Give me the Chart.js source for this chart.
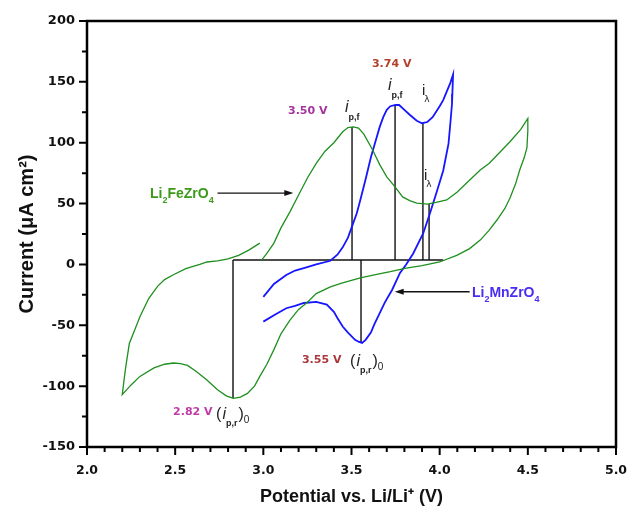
<!DOCTYPE html>
<html>
<head>
<meta charset="utf-8">
<script src="https://cdn.jsdelivr.net/npm/chart.js@4.4.1/dist/chart.umd.min.js"></script>
<style>
  body { margin: 0; background: #fff; }
</style>
</head>
<body>
<canvas id="cvChart" width="628" height="506"></canvas>
<script>
// Li2FeZrO4 loop (green): potential (V) and current (uA cm-2)
const feV = [2.98, 2.92, 2.86, 2.80, 2.74, 2.68, 2.64, 2.56, 2.49, 2.44, 2.40, 2.35, 2.30, 2.27, 2.24, 2.22, 2.21, 2.20,
    2.25, 2.30, 2.38, 2.44, 2.49, 2.53, 2.57, 2.62, 2.68, 2.74, 2.79, 2.83, 2.87, 2.91, 2.95, 2.98, 3.02, 3.06, 3.10, 3.15,
    3.20, 3.25, 3.30, 3.38, 3.44, 3.50, 3.55, 3.65, 3.72, 3.81, 3.90, 4.00, 4.10, 4.17, 4.23, 4.28, 4.325, 4.37, 4.40,
    4.43, 4.455, 4.48, 4.495, 4.50, 4.50,
    4.46, 4.40, 4.34, 4.28, 4.23, 4.16, 4.10, 4.04, 3.98, 3.93, 3.87, 3.83, 3.79, 3.74, 3.70, 3.66, 3.62, 3.57, 3.54,
    3.51, 3.48, 3.45, 3.40, 3.35, 3.30, 3.25, 3.20, 3.15, 3.10, 3.06, 3.02, 2.99];
const feI = [17.5, 12, 7.5, 4.5, 3, 2, 0, -3.5, -8.5, -12.5, -18, -28, -43, -54, -65, -84, -95, -107,
    -99, -92, -85, -82, -81, -81.5, -83, -88, -95, -103, -108, -110, -109, -106, -100, -92, -82, -70, -57, -46,
    -37, -31, -24, -18.4, -15.5, -13, -11, -8, -6, -3, -1, 2, 7.7, 13, 20, 28, 36.5, 46, 55,
    66, 78, 88, 96, 110, 120,
    111, 101, 92, 83, 77.6, 68, 59.5, 53, 51, 49.6, 50.4, 52.5, 55.5, 65, 72, 82, 94, 107, 112,
    113, 112.5, 109, 100, 93, 83, 71, 57, 43, 30, 17.5, 9, 3.6];

// Li2MnZrO4 loop (blue)
const mnV = [3.00, 3.06, 3.13, 3.18, 3.23, 3.30, 3.38, 3.42, 3.45, 3.48, 3.50, 3.53, 3.55, 3.58, 3.61, 3.64, 3.66, 3.68,
    3.70, 3.72, 3.75, 3.77, 3.80, 3.83, 3.87, 3.90, 3.93, 3.96, 4.00, 4.02, 4.04, 4.06, 4.076,
    4.072, 4.07, 4.06, 4.05, 4.02, 3.98, 3.945, 3.907, 3.85, 3.81, 3.775, 3.73, 3.69, 3.66, 3.63, 3.61, 3.58, 3.56,
    3.54, 3.52, 3.48, 3.45, 3.42, 3.40, 3.36, 3.30, 3.23, 3.18, 3.13, 3.07, 3.00];
const mnI = [-26.6, -16, -8.7, -5, -3, 0, 3, 8, 14, 22, 30, 42, 53, 70, 88, 103, 113, 121,
    127, 130, 131, 131, 127, 123, 118, 116, 117, 121, 130, 135, 142, 149, 156,
    140, 132, 115, 99, 77, 58, 42, 25.6, 9, 0, -7, -21, -31, -40, -49, -56, -62, -64.5,
    -63.5, -62, -56, -51, -44, -39, -33, -30.8, -31.7, -34, -36, -41, -47];

// peak markers: baseline current and vertical drop lines
const baseI = 3.6;
const baseFrom = 2.828, baseTo = 4.02;
const markV = [2.828, 3.503, 3.747, 3.905, 3.94, 3.554];
const markI = [-110, 113, 131, 116, 49.6, -64];

// arrows [fromV, toV, current]
const arrowFrom = [2.74, 4.17];
const arrowTo = [3.17, 3.745];
const arrowI = [58.6, -22.5];

// axis ticks
const xTicks = [2.0, 2.5, 3.0, 3.5, 4.0, 4.5, 5.0];
const yTicks = [-150, -100, -50, 0, 50, 100, 150, 200];

const pts = (vs, is) => vs.map((v, k) => ({ x: v, y: is[k] }));

const datasets = [
    { data: pts(feV, feI), borderColor: '#1f8f1f', borderWidth: 1.3 },
    { data: pts(mnV, mnI), borderColor: '#1616ff', borderWidth: 1.8 },
    { data: pts([baseFrom, baseTo], [baseI, baseI]), borderColor: '#111', borderWidth: 1.4 }
];
markV.forEach((v, k) => {
    datasets.push({ data: pts([v, v], [baseI, markI[k]]), borderColor: '#111', borderWidth: 1.4 });
});
datasets.forEach(d => {
    d.showLine = true;
    d.pointRadius = 0;
    d.fill = false;
    d.tension = 0;
});

const IT = 'italic 16px "Liberation Sans"';
const SUB = 'bold 9px "Liberation Sans"';
const VF = 'bold 11px "DejaVu Sans"';
const ipf = [{ t: 'i', font: IT }, { t: 'p,f', font: SUB, dy: 8, dx: 0 }];
const ilam = [{ t: 'i', font: '15px "Liberation Sans"' }, { t: 'λ', font: '9px "DejaVu Sans"', dy: 7, dx: -1 }];
const ipr = [{ t: '(', font: '16px "Liberation Sans"' }, { t: 'i', font: IT, dx: 1 }, { t: 'p,r', font: SUB, dy: 7 },
    { t: ')', font: '16px "Liberation Sans"', dx: 1 }, { t: '0', font: '10px "Liberation Sans"', dy: 4 }];

// text notes placed at data coordinates
const notes = [
    { v: 3.14, i: 123.5, parts: [{ t: '3.50 V', font: VF, color: '#a3339d' }] },
    { v: 3.463, i: 125.5, parts: ipf },
    { v: 3.616, i: 162, parts: [{ t: '3.74 V', font: VF, color: '#b3402a' }] },
    { v: 3.707, i: 143.5, parts: ipf },
    { v: 3.90, i: 139, parts: ilam },
    { v: 3.911, i: 69, parts: ilam },
    { v: 2.357, i: 54.6, parts: [{ t: 'Li', font: 'bold 14px "Liberation Sans"', color: '#3c9a1a' },
        { t: '2', font: 'bold 9px "Liberation Sans"', color: '#3c9a1a', dy: 5 },
        { t: 'FeZrO', font: 'bold 14px "Liberation Sans"', color: '#3c9a1a' },
        { t: '4', font: 'bold 9px "Liberation Sans"', color: '#3c9a1a', dy: 5 }] },
    { v: 4.183, i: -26.8, parts: [{ t: 'Li', font: 'bold 14px "Liberation Sans"', color: '#4a2cf2' },
        { t: '2', font: 'bold 9px "Liberation Sans"', color: '#4a2cf2', dy: 5 },
        { t: 'MnZrO', font: 'bold 14px "Liberation Sans"', color: '#4a2cf2' },
        { t: '4', font: 'bold 9px "Liberation Sans"', color: '#4a2cf2', dy: 5 }] },
    { v: 3.219, i: -81, parts: [{ t: '3.55 V', font: VF, color: '#a8383a' }] },
    { v: 3.492, i: -83.5, parts: ipr },
    { v: 2.488, i: -123.7, parts: [{ t: '2.82 V', font: VF, color: '#c03aa8' }] },
    { v: 2.732, i: -127, parts: ipr }
];

function drawRich(ctx, x, y, parts) {
    let cx = x;
    parts.forEach(p => {
        ctx.font = p.font;
        ctx.fillStyle = p.color || '#222';
        cx += p.dx || 0;
        ctx.fillText(p.t, cx, y + (p.dy || 0));
        cx += ctx.measureText(p.t).width;
    });
}

const decor = {
    id: 'decor',
    afterDatasetsDraw(chart) {
        const ctx = chart.ctx;
        const xs = chart.scales.x, ys = chart.scales.y;
        ctx.save();
        // arrows
        ctx.strokeStyle = '#111';
        ctx.fillStyle = '#111';
        ctx.lineWidth = 1.4;
        arrowFrom.forEach((v, k) => {
            const x0 = xs.getPixelForValue(v), x1 = xs.getPixelForValue(arrowTo[k]);
            const y = ys.getPixelForValue(arrowI[k]);
            const dir = Math.sign(x1 - x0);
            ctx.beginPath();
            ctx.moveTo(x0, y);
            ctx.lineTo(x1 - dir * 6, y);
            ctx.stroke();
            ctx.beginPath();
            ctx.moveTo(x1, y);
            ctx.lineTo(x1 - dir * 9, y - 3);
            ctx.lineTo(x1 - dir * 9, y + 3);
            ctx.closePath();
            ctx.fill();
        });
        // notes
        ctx.textBaseline = 'alphabetic';
        ctx.textAlign = 'left';
        notes.forEach(n => drawRich(ctx, xs.getPixelForValue(n.v), ys.getPixelForValue(n.i), n.parts));
        ctx.restore();
    },
    afterDraw(chart) {
        const ctx = chart.ctx;
        const a = chart.chartArea;
        const xs = chart.scales.x, ys = chart.scales.y;
        ctx.save();
        ctx.strokeStyle = '#000';
        ctx.lineWidth = 2.5;
        ctx.strokeRect(a.left, a.top, a.right - a.left, a.bottom - a.top);
        ctx.lineWidth = 2;
        ctx.beginPath();
        for (let k = 0; k <= 30; k++) {
            const x = xs.getPixelForValue(2 + k * 0.1);
            const len = k % 5 === 0 ? 8 : 5;
            ctx.moveTo(x, a.bottom);
            ctx.lineTo(x, a.bottom + len);
        }
        for (let k = 0; k <= 14; k++) {
            const y = ys.getPixelForValue(-150 + k * 25);
            const len = k % 2 === 0 ? 8 : 5;
            ctx.moveTo(a.left, y);
            ctx.lineTo(a.left - len, y);
        }
        ctx.stroke();
        ctx.restore();
    }
};

const tickFont = { family: '"DejaVu Sans"', size: 13, weight: 'bold' };

new Chart(document.getElementById('cvChart'), {
    type: 'scatter',
    data: { datasets: datasets },
    options: {
        responsive: false,
        animation: false,
        layout: { padding: 0 },
        plugins: { legend: { display: false }, tooltip: { enabled: false } },
        scales: {
            x: {
                type: 'linear',
                min: 2, max: 5,
                afterBuildTicks: s => { s.ticks = xTicks.map(v => ({ value: v })); },
                afterFit: s => { s.height = 59; s.paddingLeft = 0; s.paddingRight = 12; },
                grid: { display: false },
                border: { display: false },
                ticks: { color: '#111', font: { family: '"DejaVu Sans"', size: 12.5, weight: 'bold' }, padding: 8,
                    callback: v => v.toFixed(1) },
                title: {
                    display: true, text: 'Potential vs. Li/Li⁺ (V)', color: '#111',
                    font: { family: '"Liberation Sans"', size: 18, weight: 'bold', lineHeight: 1 },
                    padding: { top: 0, bottom: 0 }
                }
            },
            y: {
                type: 'linear',
                min: -150, max: 200,
                afterBuildTicks: s => { s.ticks = yTicks.map(v => ({ value: v })); },
                afterFit: s => { s.width = 87; s.paddingTop = 21; s.paddingBottom = 0; },
                grid: { display: false },
                border: { display: false },
                ticks: { color: '#111', font: tickFont, padding: 4 },
                title: {
                    display: true, text: 'Current (μA cm²)', color: '#111',
                    font: { family: '"Liberation Sans"', size: 20, weight: 'bold' },
                    padding: { top: 15, bottom: 0 }
                }
            }
        }
    },
    plugins: [decor]
});
</script>
</body>
</html>
